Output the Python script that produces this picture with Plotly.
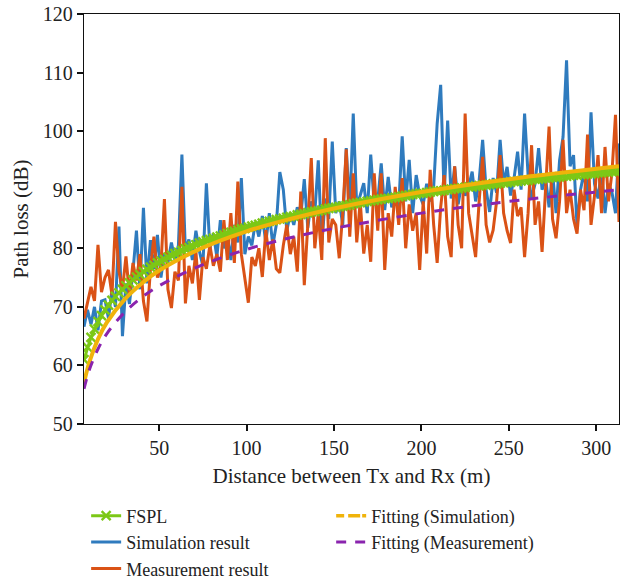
import plotly.graph_objects as go

# distance grid (m)
distance = list(range(7, 314, 2))

fspl = [
    61.0, 63.1, 64.8, 66.2, 67.5, 68.5, 69.5, 70.3, 71.1, 71.8,
    72.4, 73.0, 73.6, 74.1, 74.6, 75.1, 75.5, 76.0, 76.4, 76.8,
    77.1, 77.5, 77.8, 78.1, 78.5, 78.8, 79.1, 79.3, 79.6, 79.9,
    80.1, 80.4, 80.6, 80.9, 81.1, 81.3, 81.5, 81.7, 81.9, 82.1,
    82.3, 82.5, 82.7, 82.9, 83.1, 83.3, 83.4, 83.6, 83.8, 83.9,
    84.1, 84.3, 84.4, 84.6, 84.7, 84.9, 85.0, 85.1, 85.3, 85.4,
    85.5, 85.7, 85.8, 85.9, 86.1, 86.2, 86.3, 86.4, 86.5, 86.7,
    86.8, 86.9, 87.0, 87.1, 87.2, 87.3, 87.4, 87.6, 87.7, 87.8,
    87.9, 88.0, 88.1, 88.2, 88.3, 88.4, 88.5, 88.5, 88.6, 88.7,
    88.8, 88.9, 89.0, 89.1, 89.2, 89.3, 89.4, 89.4, 89.5, 89.6,
    89.7, 89.8, 89.8, 89.9, 90.0, 90.1, 90.2, 90.2, 90.3, 90.4,
    90.5, 90.5, 90.6, 90.7, 90.8, 90.8, 90.9, 91.0, 91.0, 91.1,
    91.2, 91.2, 91.3, 91.4, 91.4, 91.5, 91.6, 91.6, 91.7, 91.8,
    91.8, 91.9, 92.0, 92.0, 92.1, 92.1, 92.2, 92.3, 92.3, 92.4,
    92.5, 92.5, 92.6, 92.6, 92.7, 92.7, 92.8, 92.9, 92.9, 93.0,
    93.0, 93.1, 93.1, 93.2,
]

simulation = [
    66.6, 69.5, 67.0, 70.0, 66.0, 71.0, 71.2, 68.0, 73.0, 70.0,
    83.7, 65.0, 74.0, 70.5, 76.0, 83.0, 73.0, 86.9, 74.0, 81.4,
    76.5, 82.3, 75.0, 79.0, 77.5, 81.0, 78.0, 80.5, 96.0, 79.5,
    81.5, 78.0, 83.0, 79.5, 77.0, 91.1, 80.0, 82.5, 78.5, 84.8,
    80.0, 82.5, 78.0, 84.0, 81.0, 92.0, 79.0, 82.0, 80.5, 84.5,
    82.0, 85.5, 81.0, 86.0, 80.5, 84.0, 93.0, 90.0, 83.0, 86.0,
    84.0, 87.0, 85.5, 91.8, 83.5, 88.0, 86.0, 95.0, 80.6, 88.5,
    85.0, 98.2, 86.0, 88.0, 84.0, 97.1, 86.5, 103.0, 87.0, 89.0,
    91.1, 86.0, 96.0, 87.5, 88.0, 94.5, 86.5, 92.2, 87.0, 89.0,
    87.0, 99.1, 88.0, 95.1, 86.0, 92.5, 89.0, 87.5, 91.0, 88.0,
    90.5, 101.3, 107.9, 89.0, 101.8, 88.5, 94.0, 87.5, 91.0, 89.0,
    90.5, 93.1, 88.0, 91.5, 98.5, 90.0, 86.2, 92.0, 89.5, 98.5,
    91.0, 93.9, 89.0, 92.0, 96.5, 90.0, 103.0, 92.5, 88.5, 91.0,
    97.1, 90.0, 92.0, 87.0, 93.0, 86.0, 95.0, 99.0, 112.1, 94.0,
    95.9, 83.7, 90.0, 93.0, 88.0, 103.2, 91.0, 88.5, 93.5, 86.0,
    91.0, 89.5, 86.0, 97.9,
]

measurement = [
    68.0, 70.8, 73.4, 71.0, 80.6, 72.5, 75.0, 76.3, 72.0, 84.5,
    76.0, 73.0, 78.6, 72.0, 77.5, 74.5, 79.0, 71.0, 67.5, 76.5,
    82.0, 75.0, 77.0, 88.4, 73.0, 69.8, 76.0, 74.5, 90.5, 70.6,
    77.0, 74.0, 79.5, 71.2, 78.5, 76.5, 80.5, 77.0, 79.0, 76.0,
    84.8, 78.0, 86.0, 77.5, 91.4, 79.0, 75.0, 70.7, 78.5, 77.0,
    80.0, 75.1, 83.1, 78.0, 81.5, 76.5, 75.8, 80.5, 84.0, 79.0,
    82.0, 76.0, 89.7, 73.7, 84.0, 95.4, 80.0, 86.0, 78.0, 98.8,
    81.0, 85.0, 84.0, 78.3, 86.0, 96.9, 82.0, 92.8, 81.0, 88.0,
    79.1, 84.0, 77.7, 92.8, 83.0, 92.8, 76.3, 86.0, 82.0, 90.5,
    84.0, 92.0, 80.0, 87.5, 83.0, 86.0, 76.3, 88.0, 79.1, 93.4,
    84.0, 77.5, 87.0, 92.5, 82.0, 78.5, 94.0, 84.0, 80.0, 103.0,
    86.0, 82.5, 78.5, 88.0, 95.6, 84.0, 81.0, 83.1, 88.0, 95.9,
    86.0, 83.0, 80.9, 90.0, 85.5, 87.0, 78.5, 86.0, 97.6, 84.0,
    88.0, 79.4, 90.0, 100.8, 85.0, 81.7, 88.0, 98.5, 86.0, 90.0,
    85.0, 82.5, 90.0, 86.5, 99.4, 84.0, 89.0, 95.9, 86.0, 97.3,
    88.0, 93.0, 102.8, 84.5,
]

fit_distance = [7, 10, 15, 20, 30, 40, 50, 75, 100, 125, 150, 200, 250, 313]
fit_simulation = [57.0, 60.5, 64.5, 67.3, 71.2, 74.0, 76.2, 80.1, 82.9, 85.0, 86.8, 89.6, 91.8, 94.0]
fit_measurement = [56.0, 59.2, 62.8, 65.4, 69.0, 71.6, 73.6, 77.2, 79.8, 81.8, 83.4, 86.0, 88.0, 90.0]

C_GREEN = "#7CC816"
C_BLUE = "#2F7BBE"
C_ORANGE = "#DA5216"
C_YELLOW = "#F0B30A"
C_PURPLE = "#8A24AE"

FONT = "Liberation Serif"
TXT = "#222"

fig = go.Figure()

fig.add_trace(go.Scatter(
    x=distance, y=simulation, name="Simulation result", mode="lines",
    line=dict(color=C_BLUE, width=3),
    legend="legend", legendrank=2,
))
fig.add_trace(go.Scatter(
    x=distance, y=measurement, name="Measurement result", mode="lines",
    line=dict(color=C_ORANGE, width=3),
    legend="legend", legendrank=3,
))
fig.add_trace(go.Scatter(
    x=distance, y=fspl, name="FSPL", mode="lines+markers",
    line=dict(color=C_GREEN, width=3),
    marker=dict(symbol="x-thin", size=9, line=dict(color=C_GREEN, width=2.4)),
    legend="legend", legendrank=1,
))
fig.add_trace(go.Scatter(
    x=fit_distance, y=fit_simulation, name="Fitting (Simulation)", mode="lines",
    line=dict(color=C_YELLOW, width=4, shape="spline"),
    showlegend=False,
))
fig.add_trace(go.Scatter(
    x=[None], y=[None], name="Fitting (Simulation)", mode="lines",
    line=dict(color=C_YELLOW, width=3.5, dash="8px,4px,12px,2px"),
    legend="legend2", legendrank=1,
))
fig.add_trace(go.Scatter(
    x=fit_distance, y=fit_measurement, name="Fitting (Measurement)", mode="lines",
    line=dict(color=C_PURPLE, width=3, dash="10px,9px", shape="spline"),
    legend="legend2", legendrank=2,
))

axis_common = dict(
    showline=True, linecolor="#111", linewidth=1.3, mirror=True,
    ticks="outside", ticklen=6, tickwidth=1.5, tickcolor="#111",
    showgrid=False, zeroline=False, automargin=False,
    ticklabeloverflow="allow",
    tickfont=dict(family=FONT, size=20, color=TXT),
)

FIG_W, FIG_H = 631, 580
LEG_TOP = 1 - 497.5 / FIG_H

fig.update_layout(
    width=FIG_W, height=FIG_H,
    margin=dict(l=84, r=12, t=14, b=156),
    paper_bgcolor="white", plot_bgcolor="white",
    font=dict(family=FONT, size=20, color=TXT),
    xaxis=dict(
        range=[7, 313], tickvals=[50, 100, 150, 200, 250, 300],
        title=dict(text="Distance between Tx and Rx (m)", font=dict(family=FONT, size=21, color=TXT), standoff=10),
        **axis_common,
    ),
    yaxis=dict(
        range=[50, 120], tickvals=[50, 60, 70, 80, 90, 100, 110, 120],
        title=dict(text="Path loss (dB)", font=dict(family=FONT, size=21, color=TXT), standoff=8),
        **axis_common,
    ),
    legend=dict(
        xref="paper", yref="container", orientation="v",
        x=0.004, y=LEG_TOP, xanchor="left", yanchor="top",
        bgcolor="rgba(0,0,0,0)", font=dict(family=FONT, size=18, color=TXT),
        tracegroupgap=0, itemwidth=30,
    ),
    legend2=dict(
        xref="paper", yref="container", orientation="v",
        x=0.462, y=LEG_TOP, xanchor="left", yanchor="top",
        bgcolor="rgba(0,0,0,0)", font=dict(family=FONT, size=18, color=TXT),
        tracegroupgap=0, itemwidth=30,
    ),
)

# remove the browser's default 8px page margin so the figure fills the window
fig.write_html(
    "out.html",
    config={"displayModeBar": False},
    post_script="document.body.style.margin='0';",
)
